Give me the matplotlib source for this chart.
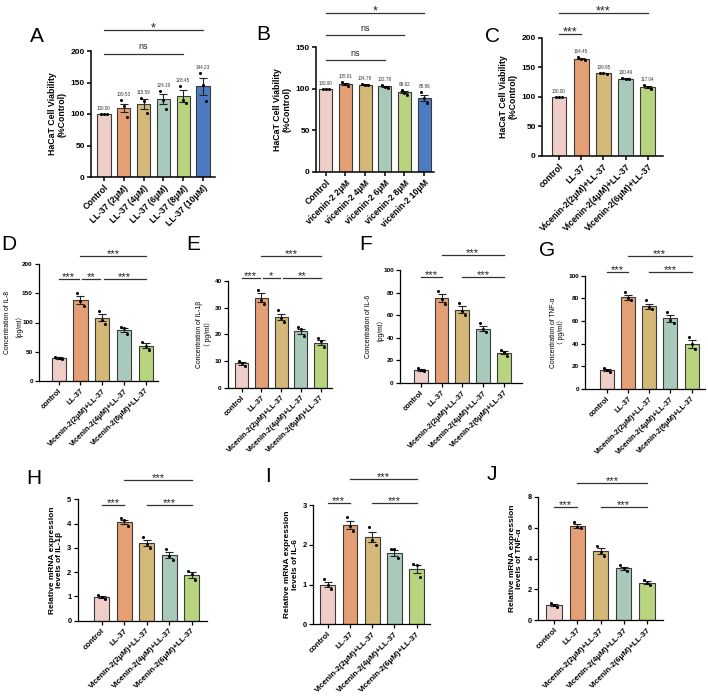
import numpy as np
import matplotlib
matplotlib.use('Agg')
import matplotlib.pyplot as plt

plt.rcParams['font.family'] = ['Liberation Sans', 'Noto Sans CJK SC', 'DejaVu Sans']

W, H = 708, 696

colors = ['#EFCDC9', '#E59F74', '#D4B877', '#A9C9BA', '#B9D47F', '#4D7BC3']

# ---- data -----------------------------------------------------------------
names_a = ['Control', 'LL-37 (2μM)', 'LL-37 (4μM)', 'LL-37 (6μM)', 'LL-37 (8μM)', 'LL-37 (10μM)']
means_a = [100.00, 109.53, 115.59, 124.19, 128.45, 144.23]
sems_a = [0, 7, 8, 8, 9.6, 13.4]
pts_a = [[100, 100, 100], [122, 113, 96], [125, 121, 101], [136.5, 122, 107.5],
         [144, 123, 118], [165.5, 145.5, 120.5]]

names_b = ['Control', 'vicenin-2 2μM', 'vicenin-2 4μM', 'vicenin-2 6μM', 'vicenin-2 8μM', 'vicenin-2 10μM']
means_b = [100.00, 105.91, 104.79, 102.78, 95.92, 88.86]
sems_b = [0, 1.4, 0.5, 0.8, 1.6, 3.5]
pts_b = [[100, 100, 100], [108.5, 105.3, 103.7], [105.7, 104.9, 104.1], [104.1, 102.5, 101.3],
         [98.5, 95.3, 92.9], [95.7, 89.2, 83.2]]

names_c = ['control', 'LL-37', 'Vicenin-2(2μM)+LL-37', 'Vicenin-2(4μM)+LL-37', 'Vicenin-2(6μM)+LL-37']
means_c = [100.00, 164.45, 139.85, 130.49, 117.04]
sems_c = [0, 1.3, 0.3, 0.6, 2.1]
pts_c = [[100, 100, 100], [166.8, 163.4, 162.3], [140.5, 139.8, 139.3], [131.8, 130.1, 129.6],
         [120, 116, 112.7]]

means_d = [39, 139, 108.5, 87.5, 60]
sems_d = [1.4, 6.8, 6.7, 3.7, 4.2]
pts_d = [[41.7, 40, 37], [151, 136.6, 128], [120, 104.6, 97], [93, 90, 80.5], [67.4, 60, 53]]

means_e = [9.1, 33.8, 26.5, 21.1, 16.9]
sems_e = [0.6, 1.6, 1.3, 1.0, 1.0]
pts_e = [[10.1, 9.1, 8.1], [36.6, 32.9, 31.4], [29.1, 26.1, 24.75], [22.6, 21.9, 19.5], [18.75, 17.5, 15.4]]

means_f = [11.5, 75, 65, 48.2, 26.8]
sems_f = [0.9, 3.4, 3.2, 2.4, 1.5]
pts_f = [[13.2, 11.8, 10.3], [81.5, 74.4, 70], [71.2, 63.8, 60.3], [53.5, 47.6, 45.3], [29.4, 27, 24.1]]

means_g = [16.5, 81, 73, 62.3, 39.6]
sems_g = [0.9, 2.2, 2.4, 2.8, 3.3]
pts_g = [[18.5, 16.7, 15.3], [85.6, 80, 78.3], [78.6, 72.7, 70.7], [67.7, 61, 58], [46.3, 39.6, 35.2]]

means_h = [0.97, 4.07, 3.19, 2.7, 1.88]
sems_h = [0.05, 0.09, 0.13, 0.13, 0.11]
pts_h = [[1.06, 0.99, 0.88], [4.22, 4.15, 3.92], [3.46, 3.17, 3.0], [2.95, 2.67, 2.5], [2.06, 1.92, 1.68]]

means_i = [1.0, 2.5, 2.2, 1.8, 1.38]
sems_i = [0.07, 0.1, 0.13, 0.07, 0.1]
pts_i = [[1.14, 0.99, 0.9], [2.69, 2.48, 2.35], [2.44, 2.12, 1.99], [1.89, 1.89, 1.66], [1.52, 1.49, 1.2]]

means_j = [0.98, 6.1, 4.48, 3.37, 2.44]
sems_j = [0.06, 0.12, 0.19, 0.11, 0.1]
pts_j = [[1.1, 1.01, 0.88], [6.38, 6.06, 6.0], [4.83, 4.44, 4.18], [3.58, 3.41, 3.21], [2.59, 2.44, 2.26]]

# significance brackets: (group i, group j, label, height)
sig_a = [(0, 4, 'ns', 195), (0, 5, '*', 233)]
sig_b = [(0, 3, 'ns', 134), (0, 4, 'ns', 164), (0, 5, '*', 191)]
sig_c = [(0, 1, '***', 206), (0, 4, '***', 242)]
sig_d = [(0, 1, '***', 174), (1, 2, '**', 174), (2, 4, '***', 174), (1, 4, '***', 214)]
sig_e = [(0, 1, '***', 41.2), (1, 2, '*', 41.2), (2, 4, '**', 41.2), (1, 4, '***', 49.4)]
sig_f = [(0, 1, '***', 93.5), (2, 4, '***', 93.5), (1, 4, '***', 113)]
sig_g = [(0, 1, '***', 103.5), (2, 4, '***', 103.5), (1, 4, '***', 117.4)]
sig_h = [(0, 1, '***', 4.77), (2, 4, '***', 4.77), (1, 4, '***', 5.8)]
sig_i = [(0, 1, '***', 3.06), (2, 4, '***', 3.06), (1, 4, '***', 3.65)]
sig_j = [(0, 1, '***', 7.35), (2, 4, '***', 7.35), (1, 4, '***', 8.9)]

fig = plt.figure(figsize=(W / 100, H / 100), dpi=100)


def add_panel(box, x0, dx, names, means, sems, pts, ytop, ystep, ylabel, letter, letter_xy,
              sigs, st, values=False):
    l, t, r, b = box
    ax = fig.add_axes([l / W, 1 - b / H, (r - l) / W, (b - t) / H])
    n = len(means)
    x = np.arange(n)
    ax.bar(x, means, width=0.66, color=colors[:n], edgecolor='#3a3a3a', linewidth=0.8, zorder=2)
    ax.errorbar(x, means, yerr=sems, fmt='none', ecolor='#222222', elinewidth=0.8,
                capsize=2.6, capthick=0.8, zorder=3)
    offs = [-0.15, 0.0, 0.15]
    for k in range(n):
        ax.plot(x[k] + np.array(offs), pts[k], 'o', color='black', markersize=2.2,
                markeredgewidth=0, zorder=4, clip_on=False)
    if values:
        for k in range(n):
            top = max(means[k] + sems[k], max(pts[k]))
            ax.annotate(f'{means[k]:.2f}', xy=(x[k], top), xytext=(0, 2.2), textcoords='offset points',
                        ha='center', va='bottom', fontsize=3.3, color='#333333')
    ax.set_xlim((l - x0) / dx, (r - x0) / dx)
    ax.set_ylim(0, ytop)
    ax.set_yticks(np.arange(0, ytop + ystep / 2, ystep))
    ax.set_xticks(x)
    ax.set_xticklabels(names, rotation=45, ha='right', rotation_mode='anchor',
                       fontsize=st['xt'], fontweight='bold')
    for lab in ax.get_yticklabels():
        lab.set_fontsize(st['yt'])
        lab.set_fontweight('bold')
    ax.tick_params(axis='both', length=3, width=st['lw'], pad=1.5)
    for s in ['top', 'right']:
        ax.spines[s].set_visible(False)
    for s in ['left', 'bottom']:
        ax.spines[s].set_linewidth(st['lw'])
    ax.set_ylabel(ylabel, fontsize=st['yl'], fontweight=st['yw'], labelpad=st['pad'],
                  linespacing=1.1)

    # significance lines
    for (i, j, txt, y) in sigs:
        a, c = i, j
        if any(s[1] == i and s[3] == y for s in sigs):
            a = i + 0.08
        if any(s[0] == j and s[3] == y for s in sigs):
            c = j - 0.08
        ax.plot([a, c], [y, y], color='#333333', lw=0.9, clip_on=False, zorder=5)
        if txt == 'ns':
            ax.annotate(txt, xy=((a + c) / 2, y), xytext=(0, 2.0), textcoords='offset points',
                        ha='center', va='bottom', fontsize=st['ns'], color='#222222',
                        annotation_clip=False)
        else:
            ax.annotate(txt, xy=((a + c) / 2, y), xytext=(0, -0.8), textcoords='offset points',
                        ha='center', va='baseline', fontsize=st['star'], color='#222222',
                        annotation_clip=False)

    fig.text(letter_xy[0] / W, 1 - letter_xy[1] / H, letter, fontsize=15,
             ha='center', va='center')
    return ax


top_st = dict(xt=6.3, yt=6.0, yl=6.3, yw='bold', lw=1.1, pad=3, star=9, ns=6.5)
mid_st = dict(xt=5.4, yt=4.6, yl=4.9, yw='normal', lw=0.9, pad=2, star=8, ns=6)
bot_st = dict(xt=5.8, yt=5.4, yl=6.0, yw='bold', lw=0.9, pad=3, star=8, ns=6)

via = 'HaCaT Cell Viability\n(%Control)'

add_panel((91, 51, 215, 177), 104, 19.8, names_a, means_a, sems_a, pts_a, 200, 50, via,
          'A', (37, 37), sig_a, top_st, values=True)
add_panel((316, 47, 434, 172), 325.7, 19.7, names_b, means_b, sems_b, pts_b, 150, 50, via,
          'B', (263, 35), sig_b, top_st, values=True)
add_panel((542, 37.7, 663, 156), 559, 22.2, names_c, means_c, sems_c, pts_c, 200, 50, via,
          'C', (493, 36), sig_c, top_st, values=True)

add_panel((39, 264, 158, 381), 58.7, 21.75, names_c, means_d, sems_d, pts_d, 200, 50,
          'Concentration of IL-8\n（pg/ml）', 'D', (9, 245), sig_d, mid_st)
add_panel((228, 281, 332, 387.7), 241.7, 19.75, names_c, means_e, sems_e, pts_e, 40, 10,
          'Concentration of IL-1β\n（ pg/ml）', 'E', (193, 245), sig_e, mid_st)
add_panel((400, 270, 521.7, 383), 420.7, 20.8, names_c, means_f, sems_f, pts_f, 100, 20,
          'Concentration of IL-6\n（pg/ml）', 'F', (366, 245), sig_f, mid_st)
add_panel((585, 275.7, 705, 389), 606.7, 21.25, names_c, means_g, sems_g, pts_g, 100, 20,
          'Concentration of TNF-α\n（ pg/ml）', 'G', (547, 250), sig_g, mid_st)

add_panel((77.7, 499.3, 206.7, 620.7), 101.7, 22.5, names_c, means_h, sems_h, pts_h, 5, 1,
          'Relative mRNA expression\nlevels of IL-1β', 'H', (34, 478), sig_h, bot_st)
add_panel((313.3, 505, 430, 624.3), 327.7, 22.25, names_c, means_i, sems_i, pts_i, 3, 1,
          'Relative mRNA expression\nlevels of IL-6', 'I', (268, 477), sig_i, bot_st)
add_panel((538, 496.7, 663, 620.3), 554, 23.25, names_c, means_j, sems_j, pts_j, 8, 2,
          'Relative mRNA expression\nlevels of TNF-α', 'J', (492, 475), sig_j, bot_st)

fig.savefig('out.png', dpi=100)
